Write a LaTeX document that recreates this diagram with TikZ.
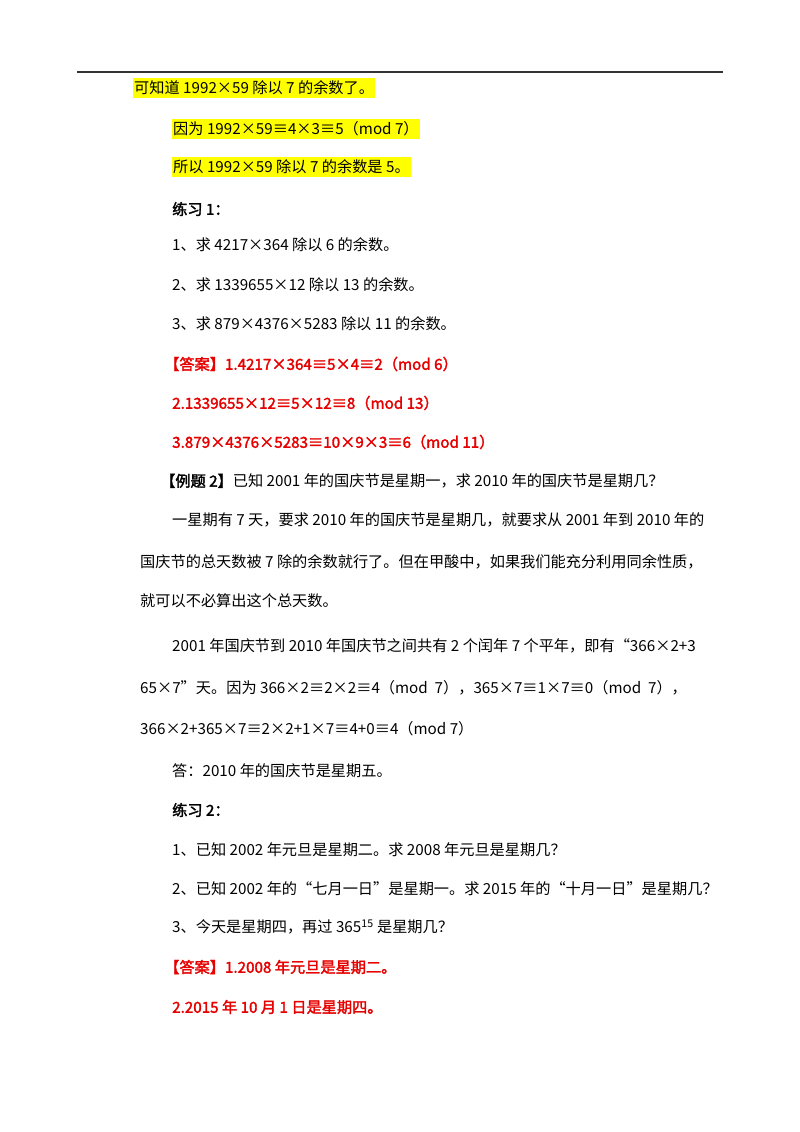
\documentclass[tikz,border=0pt]{standalone}
\usepackage{fontspec}
\setmainfont{Liberation Serif}
\newfontfamily\cjk[AutoFakeBold=2]{Noto Sans CJK SC}
\definecolor{ans}{RGB}{230,0,0}
\definecolor{hl}{RGB}{255,255,0}
\begin{document}
\begin{tikzpicture}[x=1pt,y=-1pt,
  t/.style={anchor=west,inner sep=0pt,font=\fontsize{15.2}{18}\selectfont\cjk},
  h/.style={t,fill=hl,inner ysep=3pt,inner xsep=1pt},
  r/.style={t,text=ans,font=\fontsize{15.2}{18}\selectfont\cjk\bfseries},
  b/.style={t,font=\fontsize{15.2}{18}\selectfont\cjk\bfseries}]
\useasboundingbox (0,0) rectangle (800,1132);
\fill[white] (0,0) rectangle (800,1132);
\draw[line width=1.3pt,black!80] (77,72) -- (723,72);
\node[h] (l1) at (133,88) {可知道 1992×59 除以 7 的余数了。};
\node[h] (l2) at (172,129) {因为 1992×59≡4×3≡5（mod 7）};
\node[h] (l3) at (172,167) {所以 1992×59 除以 7 的余数是 5。};
\node[b] (l4) at (172,209) {练习 1：};
\node[t] (l5) at (172,245) {1、求 4217×364 除以 6 的余数。};
\node[t] (l6) at (172,285) {2、求 1339655×12 除以 13 的余数。};
\node[t] (l7) at (172,324) {3、求 879×4376×5283 除以 11 的余数。};
\node[r] (l8) at (164,364) {【答案】1.4217×364≡5×4≡2（mod 6）};
\node[r] (l9) at (172,403) {2.1339655×12≡5×12≡8（mod 13）};
\node[r] (l10) at (172,442) {3.879×4376×5283≡10×9×3≡6（mod 11）};
\node[t] (l11) at (160,481) {\textbf{【例题 2】}已知 2001 年的国庆节是星期一，求 2010 年的国庆节是星期几？};
\node[t] (l12) at (172,520) {一星期有 7 天，要求 2010 年的国庆节是星期几，就要求从 2001 年到 2010 年的};
\node[t] (l13) at (140,562) {国庆节的总天数被 7 除的余数就行了。但在甲酸中，如果我们能充分利用同余性质，};
\node[t] (l14) at (140,601) {就可以不必算出这个总天数。};
\node[t] (l15) at (172,646) {2001 年国庆节到 2010 年国庆节之间共有 2 个闰年 7 个平年，即有“366×2+3};
\node[t] (l16) at (140,688) {65×7”天。因为 366×2≡2×2≡4（mod\ \ 7），365×7≡1×7≡0（mod\ \ 7），};
\node[t] (l17) at (140,729) {366×2+365×7≡2×2+1×7≡4+0≡4（mod 7）};
\node[t] (l18) at (172,771) {答：2010 年的国庆节是星期五。};
\node[b] (l19) at (172,810) {练习 2：};
\node[t] (l20) at (172,850) {1、已知 2002 年元旦是星期二。求 2008 年元旦是星期几？};
\node[t] (l21) at (172,889) {2、已知 2002 年的“七月一日”是星期一。求 2015 年的“十月一日”是星期几？};
\node[t] (l22) at (172,927) {3、今天是星期四，再过 365\textsuperscript{15} 是星期几？};
\node[r] (l23) at (164,967) {【答案】1.2008 年元旦是星期二。};
\node[r] (l24) at (172,1007) {2.2015 年 10 月 1 日是星期四。};
\end{tikzpicture}
\end{document}
